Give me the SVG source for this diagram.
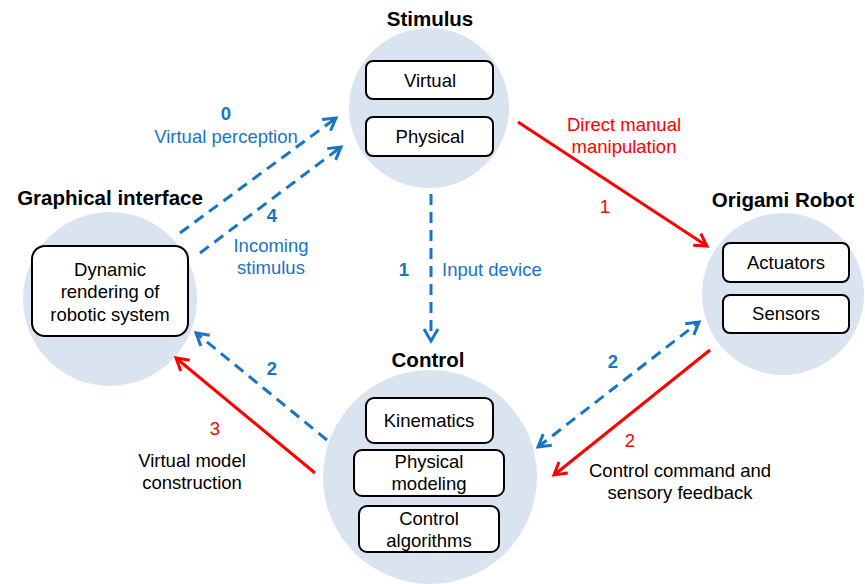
<svg xmlns="http://www.w3.org/2000/svg" width="865" height="584" viewBox="0 0 865 584">
  <style>
    .hub { fill: #dae3f0; }
    .box { fill: #ffffff; stroke: #000000; stroke-width: 2; }
    .title { font-family: "Liberation Sans", Arial, sans-serif; font-size: 20.5px; font-weight: bold; fill: #000000; text-anchor: middle; }
    .txt { font-family: "Liberation Sans", Arial, sans-serif; font-size: 18.5px; fill: #000000; text-anchor: middle; }
    .blue { fill: #1874c4; }
    .red { fill: #ff0000; }
    .num { font-weight: bold; }
    .dash { fill: none; stroke: #1874c4; stroke-width: 3; stroke-dasharray: 11 7; }
    .solid { fill: none; stroke: #ff0000; stroke-width: 3; }
  </style>
  <defs>
    <marker id="arrowBlue" viewBox="-16 -10 19 20" refX="0" refY="0" markerWidth="19" markerHeight="20" markerUnits="userSpaceOnUse" orient="auto-start-reverse">
      <path d="M-12,-7 L0,0 L-12,7" fill="none" stroke="#1874c4" stroke-width="3"/>
    </marker>
    <marker id="arrowRed" viewBox="-16 -10 19 20" refX="0" refY="0" markerWidth="19" markerHeight="20" markerUnits="userSpaceOnUse" orient="auto">
      <path d="M-12,-7 L0,0 L-12,7" fill="none" stroke="#ff0000" stroke-width="3"/>
    </marker>
  </defs>

  <rect x="0" y="0" width="865" height="584" fill="#ffffff"/>

  <!-- Stimulus -->
  <g id="stimulus">
    <circle class="hub" cx="429" cy="108" r="80"/>
    <text class="title" x="430" y="26">Stimulus</text>
    <rect class="box" x="366" y="61" width="127" height="38" rx="7"/>
    <text class="txt" x="430" y="87">Virtual</text>
    <rect class="box" x="366" y="117" width="127" height="39" rx="7"/>
    <text class="txt" x="430" y="143">Physical</text>
  </g>

  <!-- Graphical interface -->
  <g id="graphical-interface">
    <circle class="hub" cx="110" cy="299" r="87"/>
    <text class="title" x="110" y="205">Graphical interface</text>
    <rect class="box" x="32" y="246" width="156" height="90" rx="13"/>
    <text class="txt" x="110" y="276">Dynamic</text>
    <text class="txt" x="110" y="298">rendering of</text>
    <text class="txt" x="110" y="321">robotic system</text>
  </g>

  <!-- Origami Robot -->
  <g id="origami-robot">
    <circle class="hub" cx="783" cy="294" r="81"/>
    <text class="title" x="783" y="207">Origami Robot</text>
    <rect class="box" x="723" y="243" width="126" height="39" rx="7"/>
    <text class="txt" x="786" y="269">Actuators</text>
    <rect class="box" x="723" y="295" width="126" height="38" rx="7"/>
    <text class="txt" x="786" y="320">Sensors</text>
  </g>

  <!-- Control -->
  <g id="control">
    <circle class="hub" cx="430" cy="477" r="107"/>
    <text class="title" x="428" y="367">Control</text>
    <rect class="box" x="366" y="398" width="127" height="45" rx="8"/>
    <text class="txt" x="429" y="427">Kinematics</text>
    <rect class="box" x="354" y="450" width="150" height="46" rx="8"/>
    <text class="txt" x="429" y="468">Physical</text>
    <text class="txt" x="429" y="490">modeling</text>
    <rect class="box" x="359" y="506" width="140" height="46" rx="8"/>
    <text class="txt" x="429" y="525">Control</text>
    <text class="txt" x="429" y="547">algorithms</text>
  </g>

  <!-- Connectors -->
  <g id="connectors">
    <!-- Graphical interface -> Stimulus -->
    <line class="dash" x1="180" y1="233" x2="336" y2="118" marker-end="url(#arrowBlue)"/>
    <line class="dash" x1="200" y1="253" x2="341" y2="147" marker-end="url(#arrowBlue)"/>
    <!-- Stimulus -> Control (input device) -->
    <line class="dash" x1="431" y1="194" x2="431" y2="341" marker-end="url(#arrowBlue)"/>
    <!-- Stimulus -> Origami Robot (direct manipulation) -->
    <line class="solid" x1="518" y1="122" x2="707" y2="246" marker-end="url(#arrowRed)"/>
    <!-- Control -> Graphical interface -->
    <line class="dash" x1="327" y1="440" x2="196" y2="333" marker-end="url(#arrowBlue)"/>
    <line class="solid" x1="315" y1="473" x2="176" y2="358" marker-end="url(#arrowRed)"/>
    <!-- Control <-> Origami Robot -->
    <line class="dash" x1="538" y1="447" x2="699" y2="322" marker-start="url(#arrowBlue)" marker-end="url(#arrowBlue)"/>
    <line class="solid" x1="710" y1="350" x2="554" y2="475" marker-end="url(#arrowRed)"/>

    <!-- Connector labels -->
    <text class="txt blue num" x="226" y="120">0</text>
    <text class="txt blue" x="226" y="143">Virtual perception</text>
    <text class="txt blue num" x="272" y="222">4</text>
    <text class="txt blue" x="271" y="252">Incoming</text>
    <text class="txt blue" x="271" y="274">stimulus</text>
    <text class="txt blue num" x="404" y="276">1</text>
    <text class="txt blue" x="442" y="276" text-anchor="start" style="text-anchor:start">Input device</text>
    <text class="txt red" x="624" y="131">Direct manual</text>
    <text class="txt red" x="624" y="153">manipulation</text>
    <text class="txt red" x="605" y="213">1</text>
    <text class="txt blue num" x="272" y="375">2</text>
    <text class="txt red" x="215" y="435">3</text>
    <text class="txt" x="192" y="467">Virtual model</text>
    <text class="txt" x="192" y="489">construction</text>
    <text class="txt blue num" x="613" y="368">2</text>
    <text class="txt red" x="630" y="447">2</text>
    <text class="txt" x="680" y="477">Control command and</text>
    <text class="txt" x="680" y="499">sensory feedback</text>
  </g>
</svg>
